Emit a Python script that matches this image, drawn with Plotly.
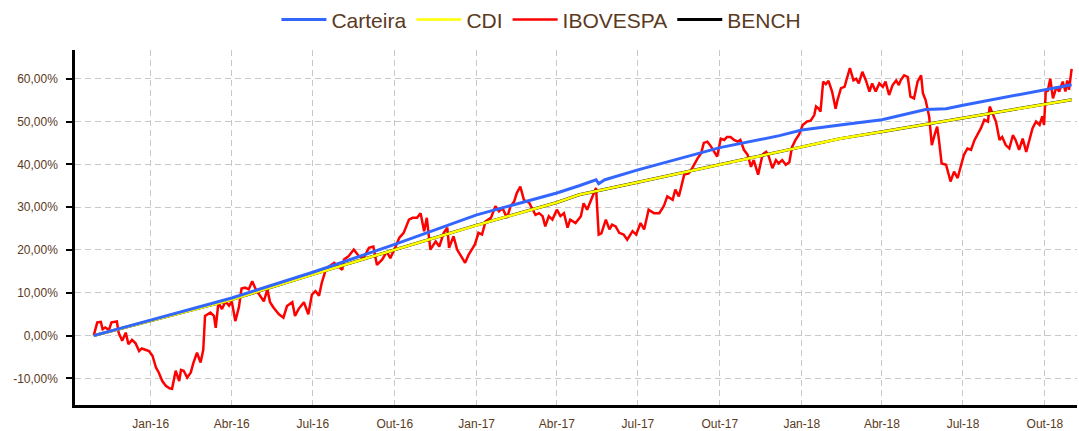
import plotly.graph_objects as go

# ---------------- data (values in %) ----------------
ibov_dates = [
    "2015-10-29", "2015-11-02", "2015-11-06", "2015-11-08", "2015-11-11", "2015-11-15", "2015-11-18",
    "2015-11-24", "2015-11-26", "2015-11-30", "2015-12-04", "2015-12-07", "2015-12-11", "2015-12-15",
    "2015-12-19", "2015-12-22", "2015-12-26", "2015-12-30", "2016-01-03", "2016-01-07", "2016-01-10",
    "2016-01-14", "2016-01-18", "2016-01-22", "2016-01-25", "2016-01-29", "2016-02-02", "2016-02-04",
    "2016-02-07", "2016-02-11", "2016-02-15", "2016-02-18", "2016-02-22", "2016-02-26", "2016-02-29",
    "2016-03-02", "2016-03-08", "2016-03-12", "2016-03-14", "2016-03-17", "2016-03-21", "2016-03-25",
    "2016-03-29", "2016-04-01", "2016-04-05", "2016-04-09", "2016-04-12", "2016-04-16", "2016-04-20",
    "2016-04-24", "2016-04-28", "2016-05-03", "2016-05-07", "2016-05-11", "2016-05-14", "2016-05-18",
    "2016-05-24", "2016-05-29", "2016-06-02", "2016-06-08", "2016-06-11", "2016-06-15", "2016-06-21",
    "2016-06-26", "2016-06-30", "2016-07-04", "2016-07-08", "2016-07-11", "2016-07-15", "2016-07-19",
    "2016-07-25", "2016-08-03", "2016-08-05", "2016-08-10", "2016-08-16", "2016-08-22", "2016-08-27",
    "2016-09-02", "2016-09-07", "2016-09-11", "2016-09-17", "2016-09-22", "2016-09-26", "2016-10-02",
    "2016-10-06", "2016-10-11", "2016-10-17", "2016-10-21", "2016-10-26", "2016-10-30", "2016-11-03",
    "2016-11-06", "2016-11-10", "2016-11-16", "2016-11-20", "2016-11-25", "2016-11-29", "2016-12-01",
    "2016-12-06", "2016-12-10", "2016-12-16", "2016-12-19", "2016-12-23", "2016-12-27", "2016-12-30",
    "2017-01-03", "2017-01-07", "2017-01-11", "2017-01-17", "2017-01-22", "2017-01-26", "2017-01-30",
    "2017-02-04", "2017-02-08", "2017-02-12", "2017-02-15", "2017-02-19", "2017-02-23", "2017-03-01",
    "2017-03-04", "2017-03-08", "2017-03-12", "2017-03-16", "2017-03-19", "2017-03-23", "2017-03-27",
    "2017-04-01", "2017-04-05", "2017-04-09", "2017-04-13", "2017-04-16", "2017-04-22", "2017-04-28",
    "2017-05-01", "2017-05-05", "2017-05-11", "2017-05-15", "2017-05-18", "2017-05-21", "2017-05-26",
    "2017-05-30", "2017-06-02", "2017-06-06", "2017-06-10", "2017-06-15", "2017-06-19", "2017-06-25",
    "2017-06-29", "2017-07-04", "2017-07-08", "2017-07-13", "2017-07-19", "2017-07-25", "2017-07-30",
    "2017-08-03", "2017-08-09", "2017-08-12", "2017-08-16", "2017-08-22", "2017-08-27", "2017-08-31",
    "2017-09-06", "2017-09-10", "2017-09-13", "2017-09-17", "2017-09-21", "2017-09-25", "2017-09-28",
    "2017-10-02", "2017-10-06", "2017-10-09", "2017-10-13", "2017-10-17", "2017-10-21", "2017-10-24",
    "2017-10-28", "2017-11-01", "2017-11-05", "2017-11-08", "2017-11-13", "2017-11-18", "2017-11-22",
    "2017-11-25", "2017-11-29", "2017-12-03", "2017-12-06", "2017-12-10", "2017-12-14", "2017-12-18",
    "2017-12-21", "2017-12-25", "2017-12-29", "2018-01-02", "2018-01-07", "2018-01-11", "2018-01-15",
    "2018-01-17", "2018-01-20", "2018-01-22", "2018-01-25", "2018-01-28", "2018-01-31", "2018-02-04",
    "2018-02-08", "2018-02-10", "2018-02-14", "2018-02-18", "2018-02-21", "2018-02-24", "2018-02-28",
    "2018-03-03", "2018-03-06", "2018-03-10", "2018-03-14", "2018-03-18", "2018-03-21", "2018-03-25",
    "2018-03-29", "2018-04-02", "2018-04-05", "2018-04-09", "2018-04-13", "2018-04-17", "2018-04-20",
    "2018-04-22", "2018-04-26", "2018-04-30", "2018-05-03", "2018-05-07", "2018-05-11", "2018-05-15",
    "2018-05-17", "2018-05-20", "2018-05-24", "2018-05-27", "2018-05-30", "2018-06-02", "2018-06-04",
    "2018-06-07", "2018-06-12", "2018-06-15", "2018-06-17", "2018-06-21", "2018-06-25", "2018-06-29",
    "2018-07-02", "2018-07-06", "2018-07-10", "2018-07-14", "2018-07-17", "2018-07-21", "2018-07-25",
    "2018-07-29", "2018-07-31", "2018-08-03", "2018-08-07", "2018-08-11", "2018-08-14", "2018-08-18",
    "2018-08-22", "2018-08-26", "2018-08-29", "2018-09-02", "2018-09-06", "2018-09-10", "2018-09-13",
    "2018-09-17", "2018-09-21", "2018-09-25", "2018-09-28", "2018-09-30", "2018-10-02", "2018-10-04",
    "2018-10-07", "2018-10-10", "2018-10-14", "2018-10-17", "2018-10-21", "2018-10-24", "2018-10-26",
    "2018-10-28", "2018-10-31",
]
ibov_values = [
    0.0, 3.1, 3.2, 1.5, 1.9, 1.3, 3.1,
    3.3, 0.7, -1.2, 0.7, -2.0, -1.0, -1.8,
    -3.6, -3.0, -3.3, -3.6, -4.7, -7.5, -8.6,
    -10.6, -11.7, -12.3, -12.4, -8.2, -10.6, -8.0,
    -8.2, -9.8, -8.6, -6.3, -4.0, -6.3, -3.3,
    4.6, 5.4, 4.6, 1.8, 7.7, 6.2, 8.0,
    7.0, 8.0, 3.4, 6.6, 11.0, 11.2, 10.8,
    12.7, 10.8, 9.2, 8.0, 10.8, 7.8, 6.5,
    5.0, 4.2, 6.9, 7.8, 4.6, 6.2, 7.8,
    5.0, 9.6, 10.4, 9.3, 12.3, 15.0, 16.1,
    17.0, 15.4, 17.8, 18.5, 20.1, 18.5, 18.1,
    20.5, 20.8, 16.5, 17.8, 19.6, 18.1, 20.8,
    22.8, 24.0, 27.1, 27.5, 27.5, 28.6, 24.4,
    27.5, 20.1, 22.0, 20.8, 24.0, 25.2, 20.5,
    23.2, 20.1, 18.1, 17.0, 18.9, 20.1, 21.3,
    24.0, 23.6, 26.7, 27.5, 30.2, 29.0, 29.8,
    27.5, 30.2, 31.3, 33.3, 34.8, 31.7, 31.0,
    29.8, 28.2, 28.6, 27.9, 25.5, 27.9, 27.1,
    29.4, 27.9, 28.6, 25.2, 27.1, 26.3, 27.9,
    30.9, 29.4, 32.5, 34.5, 23.6, 23.9, 27.1,
    24.8, 25.9, 25.5, 24.0, 23.6, 22.4, 24.4,
    23.6, 26.3, 24.8, 29.4, 28.6, 28.6, 30.2,
    32.5, 31.7, 34.1, 32.5, 37.6, 37.9, 39.1,
    41.4, 42.6, 45.0, 45.3, 44.2, 42.9, 41.8,
    46.0, 45.7, 46.4, 46.4, 45.7, 45.3, 45.7,
    43.4, 42.3, 39.4, 41.0, 37.6, 42.3, 42.9,
    41.8, 39.1, 41.0, 40.2, 41.0, 39.9, 40.5,
    44.0, 45.7, 47.0, 49.2, 50.0, 50.2, 51.5,
    53.5, 53.0, 52.3, 59.3, 58.7, 59.5, 57.0,
    53.0, 54.9, 57.8, 58.1, 60.4, 62.5, 59.6,
    60.0, 58.9, 61.6, 59.6, 57.0, 58.9, 57.0,
    58.9, 58.1, 59.3, 56.2, 58.5, 59.6, 58.5,
    59.6, 60.8, 60.4, 55.8, 55.4, 59.3, 60.8,
    56.6, 55.0, 51.2, 44.5, 46.8, 48.8, 45.7,
    40.2, 39.9, 37.6, 36.0, 38.3, 36.8, 39.9,
    42.2, 43.7, 43.4, 45.7, 46.8, 48.4, 50.4,
    50.0, 53.5, 51.9, 50.0, 45.7, 46.4, 44.5,
    43.7, 46.8, 45.7, 43.4, 46.0, 42.9, 45.3,
    48.4, 50.0, 49.2, 51.2, 49.2, 57.4, 57.0,
    60.0, 55.4, 58.1, 57.0, 59.3, 57.0, 59.6,
    57.4, 62.3,
]

cart_dates = [
    "2015-10-29", "2016-01-01", "2016-04-01", "2016-07-01", "2016-10-01", "2017-01-01",
    "2017-04-01", "2017-04-26", "2017-05-15", "2017-05-18", "2017-05-25", "2017-07-01",
    "2017-10-01", "2017-12-07", "2018-01-01", "2018-02-13", "2018-04-01", "2018-05-20",
    "2018-06-12", "2018-07-01", "2018-10-01", "2018-10-31",
]
cart_values = [
    0.0, 3.6, 8.8, 14.8, 21.3, 28.2,
    33.3, 35.0, 36.4, 35.5, 36.4, 38.7,
    43.9, 46.7, 48.0, 49.2, 50.4, 52.8,
    53.0, 53.8, 57.3, 58.6,
]

cdi_dates = [
    "2015-10-29", "2016-01-01", "2016-04-01", "2016-07-01", "2016-10-01", "2017-01-01",
    "2017-04-01", "2017-04-26", "2017-07-01", "2017-10-01", "2018-01-01", "2018-02-13",
    "2018-04-01", "2018-07-01", "2018-10-01", "2018-10-31",
]
cdi_values = [
    0.0, 3.4, 8.4, 14.3, 20.1, 25.8,
    31.1, 32.9, 35.8, 40.0, 44.2, 46.0,
    47.6, 50.8, 54.1, 55.1,
]
bench_values = [
    0.0, 3.4, 8.4, 14.3, 20.1, 25.8,
    31.1, 32.9, 35.8, 40.0, 44.2, 46.0,
    47.6, 50.8, 54.1, 55.1,
]

y_tick_vals = [-10, 0, 10, 20, 30, 40, 50, 60]
y_tick_text = ["-10,00%", "0,00%", "10,00%", "20,00%", "30,00%", "40,00%", "50,00%", "60,00%"]
x_tick_vals = ["2016-01-01", "2016-04-01", "2016-07-01", "2016-10-01", "2017-01-01", "2017-04-01",
               "2017-07-01", "2017-10-01", "2018-01-01", "2018-04-01", "2018-07-01", "2018-10-01"]
x_tick_text = ["Jan-16", "Abr-16", "Jul-16", "Out-16", "Jan-17", "Abr-17",
               "Jul-17", "Out-17", "Jan-18", "Abr-18", "Jul-18", "Out-18"]

TEXT = "#5a3a22"
FONT = "Liberation Sans, Arial, sans-serif"

fig = go.Figure()
fig.add_trace(go.Scatter(x=ibov_dates, y=ibov_values, name="IBOVESPA", mode="lines",
                         line=dict(color="#ff0000", width=2.5), legendrank=3))
fig.add_trace(go.Scatter(x=cdi_dates, y=bench_values, name="BENCH", mode="lines",
                         line=dict(color="#000000", width=3.0), legendrank=4))
fig.add_trace(go.Scatter(x=cdi_dates, y=cdi_values, name="CDI", mode="lines",
                         line=dict(color="#ffff00", width=2.6), legendrank=2))
fig.add_trace(go.Scatter(x=cart_dates, y=cart_values, name="Carteira", mode="lines",
                         line=dict(color="#3366ff", width=3), legendrank=1))

grid = "#c8c8c8"
fig.update_layout(
    width=1079, height=431,
    margin=dict(l=75, r=2, t=50, b=26, autoexpand=False),
    paper_bgcolor="white", plot_bgcolor="white",
    font=dict(family=FONT, color=TEXT, size=12),
    legend=dict(orientation="h", x=0.4655, xanchor="center", y=1.085, yanchor="middle",
                itemwidth=45,
                font=dict(size=21, color=TEXT, family=FONT), traceorder="normal"),
    xaxis=dict(
        type="date", range=["2015-10-08", "2018-11-06"],
        tickvals=x_tick_vals, ticktext=x_tick_text, ticks="",
        showgrid=True, gridcolor=grid, griddash="6px,4px", gridwidth=1,
        showline=True, linecolor="black", linewidth=2.5, zeroline=False,
        tickfont=dict(size=12, color=TEXT), ticklabelstandoff=6, automargin=False,
    ),
    yaxis=dict(
        range=[-16.2, 66.7], tickvals=y_tick_vals, ticktext=y_tick_text,
        ticks="outside", ticklen=6, tickwidth=2, tickcolor="black",
        showgrid=True, gridcolor=grid, griddash="6px,4px", gridwidth=1,
        showline=True, linecolor="black", linewidth=2.5, zeroline=False,
        tickfont=dict(size=12, color=TEXT), ticklabelstandoff=6, automargin=False,
    ),
)

fig.write_html("out.html", config={"displayModeBar": False},
               post_script="document.body.style.margin='0';")
